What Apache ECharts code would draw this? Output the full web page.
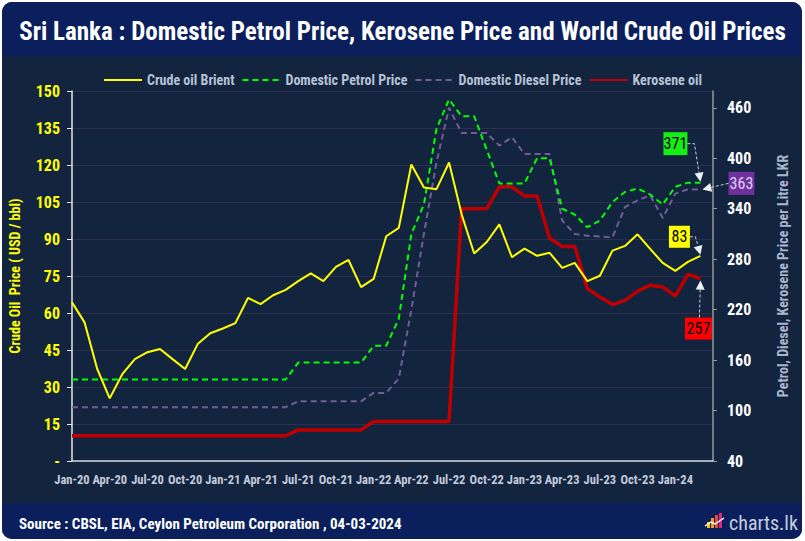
<!DOCTYPE html>
<html><head><meta charset="utf-8">
<script src="https://cdn.jsdelivr.net/npm/echarts@6/dist/echarts.min.js"></script>
<style>
html,body{margin:0;padding:0;background:#fff;}
#wrap{position:relative;width:805px;height:541px;background:#fff;overflow:hidden;}
#panel{position:absolute;left:2px;top:2px;width:800px;height:537px;border-radius:10px;background:#13243f;overflow:hidden;}
#tbar{position:absolute;left:0;top:0;right:0;height:54px;background:#0b1f5c;}
#fbar{position:absolute;left:0;bottom:0;right:0;height:36px;background:#0b1f5c;}
#c{position:absolute;left:0;top:0;width:805px;height:541px;}
</style>
</head><body>
<div id="wrap"><div id="panel"><div id="tbar"></div><div id="fbar"></div></div><div id="c"></div></div>
<script>
const FONT = '"Roboto Condensed","Open Sans",sans-serif';

const months = ['Jan-20','Feb-20','Mar-20','Apr-20','May-20','Jun-20','Jul-20','Aug-20','Sep-20','Oct-20','Nov-20','Dec-20',
'Jan-21','Feb-21','Mar-21','Apr-21','May-21','Jun-21','Jul-21','Aug-21','Sep-21','Oct-21','Nov-21','Dec-21',
'Jan-22','Feb-22','Mar-22','Apr-22','May-22','Jun-22','Jul-22','Aug-22','Sep-22','Oct-22','Nov-22','Dec-22',
'Jan-23','Feb-23','Mar-23','Apr-23','May-23','Jun-23','Jul-23','Aug-23','Sep-23','Oct-23','Nov-23','Dec-23',
'Jan-24','Feb-24','Mar-24','Apr-24'];

const crudeBrent = [64.3,56.2,37.4,25.4,35.2,41.3,44.1,45.4,41.3,37.3,47.4,51.8,
53.7,55.9,66.1,63.6,67.2,69.4,72.9,76.1,72.9,78.7,81.5,70.5,
73.8,91.1,94.5,120.2,110.9,110.2,121.0,100.0,84.1,88.8,95.9,82.6,
86.1,83.2,84.4,78.3,80.3,72.9,75.1,85.3,87.2,91.9,86.0,80.3,
77.1,80.7,83.2,null];

const petrolPrice = [137,137,137,137,137,137,137,137,137,137,137,137,
137,137,137,137,137,137,157,157,157,157,157,157,
177,177,209,310,345,435,470,450,450,410,370,370,
370,400,400,340,333,318,326,348,360,364,357,345,
366,371,371,null];

const dieselPrice = [104,104,104,104,104,104,104,104,104,104,104,104,
104,104,104,104,104,104,111,111,111,111,111,111,
121,121,138,220,310,395,460,430,430,430,415,425,
405,405,405,326,310,308,307,306,342,350,356,329,
358,363,363,null];

const kerosenePrice = [70,70,70,70,70,70,70,70,70,70,70,70,
70,70,70,70,70,70,77,77,77,77,77,77,
87,87,87,87,87,87,87,340,340,340,366,366,
355,355,305,295,295,245,235,226,231,242,249,247,
236,262,257,null];

const rightTicks = [40,100,160,220,280,340,400,460];

const seriesNames = ['Crude oil Brient','Domestic Petrol Price','Domestic Diesel Price','Kerosene oil'];
const seriesColors = ['#ffff00','#00ff00','#6f5f93','#c00000'];

const chart = echarts.init(document.getElementById('c'), null, {renderer:'svg'});

const option = {
  backgroundColor: 'transparent',
  animation: false,
  title: [
    {text:'Sri Lanka : Domestic Petrol Price, Kerosene Price and World Crude Oil Prices', left:'center', top:14,
     textStyle:{color:'#ffffff', fontFamily:FONT, fontWeight:'bold', fontSize:25}},
    {text:'Source : CBSL, EIA, Ceylon Petroleum Corporation , 04-03-2024', left:14, top:511,
     textStyle:{color:'#ffffff', fontFamily:FONT, fontWeight:'bold', fontSize:15}},
    {text:'charts.lk', left:724, top:508,
     textStyle:{color:'#c8cddc', fontFamily:FONT, fontWeight:'normal', fontSize:20}}
  ],
  legend: {
    top: 68, left: 'center',
    itemWidth: 38, itemHeight: 14, itemGap: 7,
    itemStyle: {opacity: 0},
    textStyle: {color:'#b7c2d6', fontFamily:FONT, fontSize:14, fontWeight:'bold'},
    data: seriesNames
  },
  grid: {left:72, right:92, top:91, bottom:80, containLabel:false},
  xAxis: {
    type:'category', data: months, boundaryGap:false,
    axisLine:{lineStyle:{color:'#d8d8d8', width:1.5}},
    axisTick:{show:false},
    axisLabel:{interval:2, showMinLabel:true, showMaxLabel:false, hideOverlap:false, color:'#c3cbdb', fontFamily:FONT, fontWeight:'bold', fontSize:12.5, margin:12},
    splitLine:{show:false}
  },
  yAxis: [
    {type:'value', min:0, max:150, interval:15, position:'left',
     name:'Crude Oil  Price ( USD / bbl)', nameLocation:'middle', nameGap:50, nameRotate:90,
     nameTextStyle:{color:'#ffff00', fontFamily:FONT, fontWeight:'bold', fontSize:14},
     axisLine:{show:true, lineStyle:{color:'#e6e6e6', width:1.5}},
     axisTick:{show:true, length:5, lineStyle:{color:'#e6e6e6'}},
     axisLabel:{color:'#ffff00', fontFamily:FONT, fontWeight:'bold', fontSize:16, margin:12,
       formatter: v => v === 0 ? '-' : String(v)},
     splitLine:{show:true, lineStyle:{color:'#2b2e4e', width:1}}},
    {type:'value', min:40, max:480, interval:60, position:'right',
     name:'Petrol, Diesel, Kerosene Price per Litre LKR', nameLocation:'middle', nameGap:63, nameRotate:90,
     nameTextStyle:{color:'#aab6cc', fontFamily:FONT, fontWeight:'bold', fontSize:14},
     axisLine:{show:true, lineStyle:{color:'#9a9a9a', width:1.5}},
     axisTick:{show:true, length:4, customValues:rightTicks, lineStyle:{color:'#9a9a9a'}},
     axisLabel:{color:'#ffffff', fontFamily:FONT, fontWeight:'bold', fontSize:16, margin:14,
       customValues:rightTicks, formatter: v => v === 480 ? '' : String(v)},
     splitLine:{show:false}}
  ],
  series: [
    {name:seriesNames[0], type:'line', yAxisIndex:0, data:crudeBrent, symbol:'none', z:4,
     lineStyle:{color:seriesColors[0], width:2}, itemStyle:{color:seriesColors[0]}},
    {name:seriesNames[1], type:'line', yAxisIndex:1, data:petrolPrice, symbol:'none', z:3,
     lineStyle:{color:seriesColors[1], width:2, type:[6,4]}, itemStyle:{color:seriesColors[1]}},
    {name:seriesNames[2], type:'line', yAxisIndex:1, data:dieselPrice, symbol:'none', z:2,
     lineStyle:{color:seriesColors[2], width:2, type:[6,4]}, itemStyle:{color:seriesColors[2]}},
    {name:seriesNames[3], type:'line', yAxisIndex:1, data:kerosenePrice, symbol:'none', z:3,
     lineStyle:{color:seriesColors[3], width:3.5}, itemStyle:{color:seriesColors[3]}}
  ]
};
chart.setOption(option);

function lastIndex(arr){ for(let i=arr.length-1;i>=0;i--) if(arr[i]!=null) return i; return -1; }

const annots = [
  {s:1, arr:petrolPrice, fill:'#16ef16', txt:'#000000', w:24, h:23, bx:-25, by:-39, path:[[-13,-39],[-6,-39],[0,-1]]},
  {s:2, arr:dieselPrice, fill:'#7030a0', txt:'#dcd3f2', w:26, h:23, bx:41, by:-6, path:[[28,-6],[2,0]]},
  {s:0, arr:crudeBrent, fill:'#ffff00', txt:'#000000', w:21, h:22, bx:-21, by:-19, path:[[-10.5,-19],[-5,-19],[0,-1]]},
  {s:3, arr:kerosenePrice, fill:'#ff0000', txt:'#000000', w:27, h:22, bx:-2, by:50, path:[[-1,39],[0,2]]}
];

const gfx = [];
annots.forEach((a)=>{
  const i = lastIndex(a.arr);
  const p = chart.convertToPixel({seriesIndex:a.s}, [i, a.arr[i]]);
  const cx = p[0]+a.bx, cy = p[1]+a.by;
  gfx.push({type:'rect', z:50, shape:{x:cx-a.w/2, y:cy-a.h/2, width:a.w, height:a.h}, style:{fill:a.fill}});
  gfx.push({type:'text', z:51, x:cx, y:cy, style:{text:String(Math.round(a.arr[i])), fill:a.txt,
    font:'16px '+FONT, align:'center', verticalAlign:'middle'}});
  const pts = a.path.map(q=>[p[0]+q[0], p[1]+q[1]]);
  const tip = pts[pts.length-1], prev = pts[pts.length-2];
  let dx = tip[0]-prev[0], dy = tip[1]-prev[1]; const L = Math.hypot(dx,dy); dx/=L; dy/=L;
  const hl = 9, hw = 4.5;
  const base = [tip[0]-dx*hl, tip[1]-dy*hl];
  const linePts = pts.slice(0,-1).concat([base]);
  gfx.push({type:'polyline', z:50, shape:{points:linePts}, style:{stroke:'#c9ced9', lineWidth:1, lineDash:[3,2], fill:null}});
  gfx.push({type:'polygon', z:50, shape:{points:[tip,[base[0]-dy*hw, base[1]+dx*hw],[base[0]+dy*hw, base[1]-dx*hw]]},
    style:{fill:'#eef1f6'}});
});

// charts.lk logo icon
const icon = [
  {x:707, y:522, w:3, h:6, c:'#f7c21b'},
  {x:711, y:518, w:3, h:10, c:'#f39a1f'},
  {x:715, y:515, w:3, h:13, c:'#ea4a3a'},
  {x:719, y:513, w:3, h:15, c:'#e1287a'}
];
icon.forEach(b=>gfx.push({type:'rect', z:40, shape:{x:b.x, y:b.y, width:b.w, height:b.h}, style:{fill:b.c}}));
gfx.push({type:'polyline', z:41, shape:{points:[[705,526],[711,522],[715,524],[724,518]]}, style:{stroke:'#ffffff', lineWidth:1.5, fill:null}});

chart.setOption({graphic: gfx});
</script>
</body></html>
